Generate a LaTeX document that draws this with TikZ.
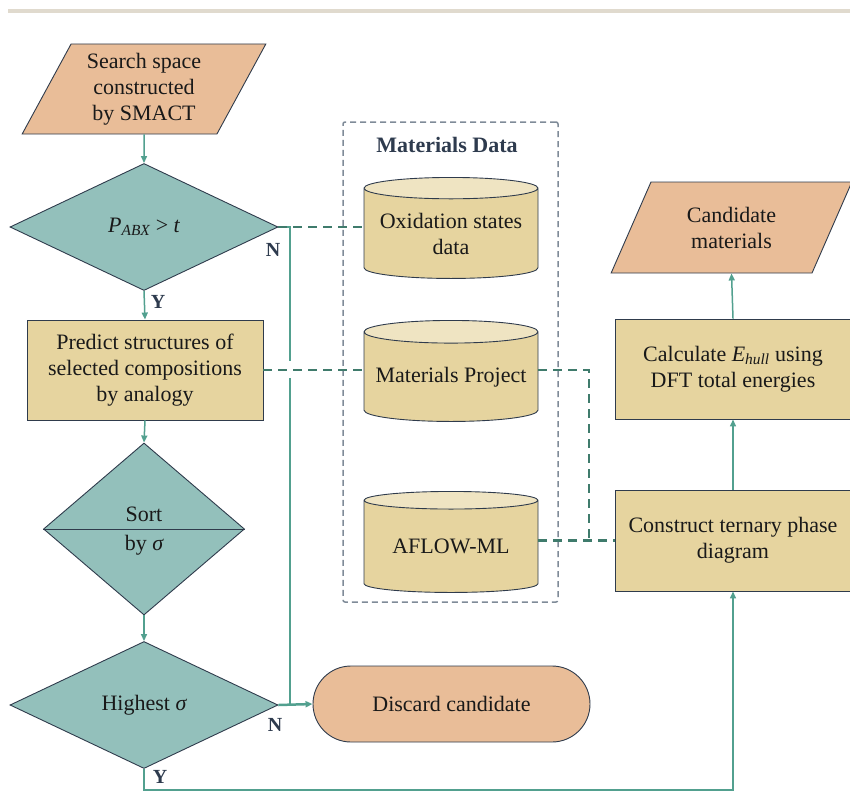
\documentclass[tikz,border=0pt]{standalone}
\usepackage{fontspec}
\setmainfont{Liberation Serif}
\usetikzlibrary{shapes.geometric, arrows.meta}

\definecolor{peach}{HTML}{E9BD98}
\definecolor{sand}{HTML}{E6D49F}
\definecolor{sandtop}{HTML}{EFE4C2}
\definecolor{seafoam}{HTML}{93C0BB}
\definecolor{flowline}{HTML}{52A08F}
\definecolor{dataline}{HTML}{3F7B6C}
\definecolor{edgeline}{HTML}{2F3B4C}
\definecolor{boxline}{HTML}{7F8B98}
\definecolor{labeltext}{HTML}{2E3B4E}
\definecolor{topbar}{HTML}{E0DACE}

\begin{document}
\begin{tikzpicture}[x=1pt, y=-1pt,
  every node/.style={font=\fontsize{22}{26}\selectfont, align=center, text=black!90},
  io/.style={trapezium, trapezium left angle=62, trapezium right angle=118,
    trapezium stretches=true, draw=edgeline, line width=0.9pt, fill=peach,
    minimum width=244pt, minimum height=90pt, inner sep=0pt},
  decision/.style={diamond, draw=edgeline, line width=0.9pt, fill=seafoam, inner sep=0pt},
  process/.style={rectangle, draw=edgeline, line width=0.9pt, fill=sand,
    minimum width=236pt, minimum height=100pt},
  db/.style={cylinder, shape border rotate=90, aspect=0.15, draw=edgeline, line width=0.9pt,
    cylinder uses custom fill, cylinder body fill=sand, cylinder end fill=sandtop,
    minimum width=174pt, minimum height=101pt, inner sep=0pt, anchor=north},
  terminal/.style={rectangle, rounded corners=38pt, draw=edgeline, line width=0.9pt,
    fill=peach, minimum width=277pt, minimum height=76pt},
  flow/.style={draw=flowline, line width=1.5pt},
  go/.style={flow, -{Triangle[length=7pt, width=6pt]}},
  data/.style={draw=dataline, line width=2.3pt, dash pattern=on 9pt off 6pt},
  yn/.style={font=\fontsize{20}{24}\selectfont\bfseries, text=labeltext}
]
\useasboundingbox (0,0) rectangle (850,792);
\fill[topbar] (8,9) rectangle (850,13);

% left column
\node[io] (search) at (144,89) {Search space\\constructed\\by SMACT};
\node[decision, minimum width=268pt, minimum height=127pt] (d1) at (144,227)
  {\itshape P\textsubscript{ABX}\upshape\ > \itshape t};
\node[process] (predict) at (145,370)
  {Predict structures of\\selected compositions\\by analogy};
\node[decision, minimum width=201pt, minimum height=172pt, text depth=-6pt] (d2) at (144,529)
  {Sort\\[3pt]by \itshape σ};
\node[decision, minimum width=268pt, minimum height=127pt] (d3) at (144,705)
  {Highest \itshape σ};
\node[terminal] (discard) at (451.5,704) {Discard candidate};

% materials data
\node[draw=boxline, line width=1.5pt, dash pattern=on 6pt off 4pt, rounded corners=2pt,
  minimum width=215pt, minimum height=480pt] (mdbox) at (450.5,362) {};
\node[font=\fontsize{22}{26}\selectfont\bfseries, text=labeltext] (mdtitle) at (447,145)
  {Materials Data};
\node[db] (ox) at (451,177) {Oxidation states\\data};
\node[db] (mp) at (451,320) {Materials Project};
\node[db] (aflow) at (451,491) {AFLOW-ML};

% right column
\node[io, minimum width=241pt, minimum height=91pt] (cand) at (731.5,227.5)
  {Candidate\\materials};
\node[process] (calc) at (733,369)
  {Calculate \itshape E\textsubscript{hull}\upshape\ using\\DFT total energies};
\node[process, minimum height=101pt] (construct) at (733,540.5)
  {Construct ternary phase\\diagram};

% Y / N labels
\node[yn] (n1) at (273,250) {N};
\node[yn] (y1) at (158,302) {Y};
\node[yn] (n2) at (275,725) {N};
\node[yn] (y2) at (160,777) {Y};

\coordinate (hopA) at (290,361);
\coordinate (hopB) at (290,378);
\coordinate (joint) at (589,540.5);

% flow
\draw[go] (search.south) -- (d1.north);
\draw[go] (d1.south) -- (predict.north);
\draw[go] (predict.south) -- (d2.north);
\draw[edgeline, line width=0.9pt] (d2.west) -- (d2.east);
\draw[go] (d2.south) -- (d3.north);
\draw[flow] (d1.east) -| (hopA);
\draw[flow] (hopB) -- (hopB |- d3.east);
\draw[go, line width=2.5pt] (d3.east) -- (discard.west);
\draw[go] (d3.south) -- (144,790) -| (construct.south);
\draw[go] (construct.north) -- (calc.south);
\draw[go] (calc.north) -- (cand.south);

% data links
\draw[data] (d1.east) -- (d1.east -| ox.west);
\draw[data] (predict.east) -- (predict.east -| mp.west);
\draw[data] (predict.east -| mp.east) -| (joint);
\draw[data] (construct.west -| aflow.east) -- (construct.west);

\end{tikzpicture}
\end{document}
